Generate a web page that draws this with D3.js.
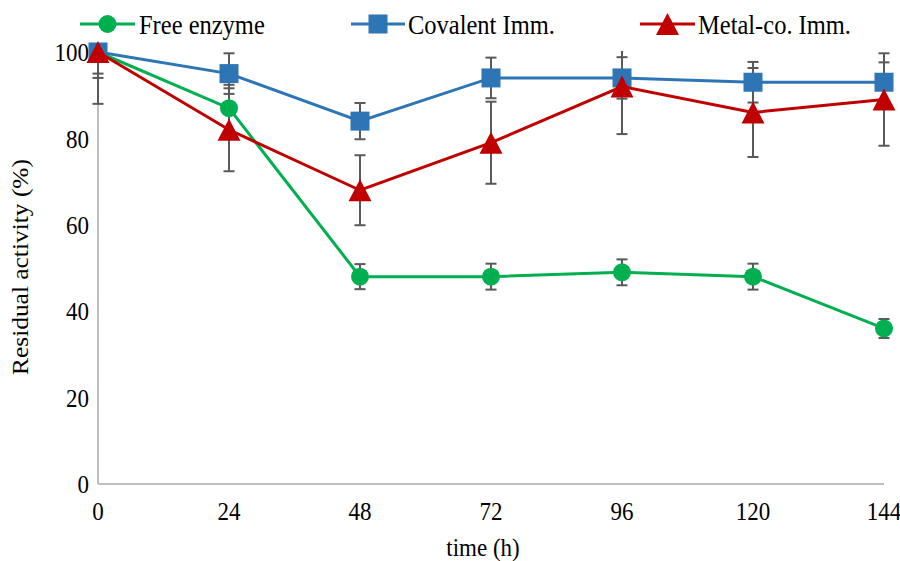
<!DOCTYPE html>
<html>
<head>
<meta charset="utf-8">
<script src="https://cdn.jsdelivr.net/npm/d3@7"></script>
<style>
html,body{margin:0;padding:0;background:#fff;}
svg text{font-family:"Liberation Serif","Times New Roman",serif;fill:#000;}
</style>
</head>
<body>
<svg id="chart" width="900" height="561"></svg>
<script>
const times = [0, 24, 48, 72, 96, 120, 144];
const xTickLabels = ["0", "24", "48", "72", "96", "120", "144"];
const yTicks = [0, 20, 40, 60, 80, 100];

const seriesNames = ["Free enzyme", "Covalent Imm.", "Metal-co. Imm."];
const freeEnzyme = [100, 87, 48, 48, 49, 48, 36];
const covalentImm = [100, 95, 84, 94, 94, 93, 93];
const metalCoImm = [100, 82, 68, 79, 92, 86, 89];

const freeErr = [5, 5.4, 2.9, 3, 3, 3, 2.2];
const covalentErr = [6, 4.7, 4.2, 4.7, 4.8, 4.7, 4.6];
const metalErr = [12, 9.6, 8.1, 9.5, 11, 10.3, 10.7];

const colors = ["#00b050", "#2e75b6", "#c00000"];
const shapes = ["circle", "square", "triangle"];

const series = [
  {name: seriesNames[0], values: freeEnzyme, err: freeErr, color: colors[0], shape: shapes[0]},
  {name: seriesNames[1], values: covalentImm, err: covalentErr, color: colors[1], shape: shapes[1]},
  {name: seriesNames[2], values: metalCoImm, err: metalErr, color: colors[2], shape: shapes[2]}
];

const svg = d3.select("#chart");
const pLeft = 98, pRight = 884, pTop = 52, pBottom = 484;
const x = d3.scaleLinear().domain([0, 144]).range([pLeft, pRight]);
const y = d3.scaleLinear().domain([0, 100]).range([pBottom, pTop]);
const sy = 1.13; // vertical stretch of text
const fs = 23;
const lfs = 24.5;

// clip for error bars
svg.append("defs").append("clipPath").attr("id", "plotclip")
  .append("rect").attr("x", pLeft - 20).attr("y", pTop - 1).attr("width", pRight - pLeft + 40).attr("height", pBottom - pTop + 1);

// axes lines
svg.append("line").attr("x1", pLeft).attr("x2", pLeft).attr("y1", y(100)).attr("y2", y(0))
  .attr("stroke", "#bfbfbf").attr("stroke-width", 2);
svg.append("line").attr("x1", pLeft).attr("x2", pRight).attr("y1", y(0)).attr("y2", y(0))
  .attr("stroke", "#bfbfbf").attr("stroke-width", 2);

// y tick labels
yTicks.forEach(t => {
  svg.append("text")
    .attr("transform", `translate(${pLeft - 9},${y(t)}) scale(1,${sy})`)
    .attr("text-anchor", "end").attr("dy", "0.35em")
    .attr("font-size", fs).text(d3.format("d")(t));
});

// x tick labels
times.forEach((t, i) => {
  svg.append("text")
    .attr("transform", `translate(${x(t)},${pBottom + 36}) scale(1,${sy})`)
    .attr("text-anchor", "middle")
    .attr("font-size", fs).text(xTickLabels[i]);
});

// axis titles
svg.append("text")
  .attr("transform", `translate(483,${556}) scale(1,${sy})`)
  .attr("text-anchor", "middle").attr("font-size", fs).text("time (h)");
svg.append("g").attr("transform", `translate(28,${(pTop + pBottom) / 2 - 1}) scale(1,${sy})`)
  .append("text").attr("transform", "rotate(-90)")
  .attr("text-anchor", "middle").attr("font-size", fs - 0.5).text("Residual activity (%)");

// error bars
const eg = svg.append("g").attr("clip-path", "url(#plotclip)");
series.forEach(s => {
  s.values.forEach((v, i) => {
    const e = s.err[i];
    const cx = x(times[i]);
    const g = eg.append("g").attr("stroke", "#595959").attr("stroke-width", 2);
    g.append("line").attr("x1", cx).attr("x2", cx).attr("y1", y(v + e)).attr("y2", y(v - e));
    g.append("line").attr("x1", cx - 5.5).attr("x2", cx + 5.5).attr("y1", y(v + e)).attr("y2", y(v + e));
    g.append("line").attr("x1", cx - 5.5).attr("x2", cx + 5.5).attr("y1", y(v - e)).attr("y2", y(v - e));
  });
});

function drawMarker(g, shape, cx, cy, color) {
  if (shape === "circle") {
    g.append("circle").attr("cx", cx).attr("cy", cy).attr("r", 9).attr("fill", color);
  } else if (shape === "square") {
    g.append("rect").attr("x", cx - 9.5).attr("y", cy - 9.5).attr("width", 19).attr("height", 19).attr("fill", color);
  } else {
    const h = 22, w = 23;
    g.append("path").attr("d", `M${cx},${cy - h / 2}L${cx + w / 2},${cy + h / 2}L${cx - w / 2},${cy + h / 2}Z`).attr("fill", color);
  }
}

const line = d3.line().x((d, i) => x(times[i])).y(d => y(d));
series.forEach(s => {
  const g = svg.append("g");
  g.append("path").datum(s.values).attr("d", line).attr("fill", "none")
    .attr("stroke", s.color).attr("stroke-width", 3);
  s.values.forEach((v, i) => drawMarker(g, s.shape, x(times[i]), y(v), s.color));
});

// legend
const legendPos = [{x1: 80, x2: 135, tx: 139}, {x1: 351, x2: 405, tx: 408}, {x1: 640, x2: 695, tx: 698}];
const ly = 24;
series.forEach((s, i) => {
  const p = legendPos[i];
  const g = svg.append("g");
  g.append("line").attr("x1", p.x1).attr("x2", p.x2).attr("y1", ly).attr("y2", ly)
    .attr("stroke", s.color).attr("stroke-width", 3);
  drawMarker(g, s.shape, (p.x1 + p.x2) / 2, ly, s.color);
  g.append("text").attr("transform", `translate(${p.tx},${ly}) scale(1,${sy})`)
    .attr("dy", "0.35em").attr("font-size", lfs).text(s.name);
});
</script>
</body>
</html>
